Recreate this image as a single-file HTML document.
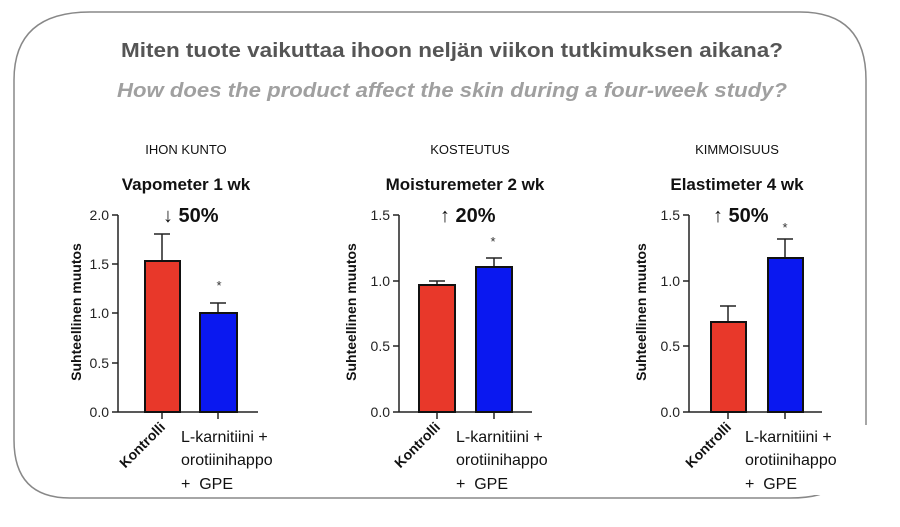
<!DOCTYPE html>
<html><head><meta charset="utf-8"><style>
html,body{margin:0;padding:0;background:#fff;}
svg{display:block;font-family:"Liberation Sans",sans-serif;}
</style></head><body>
<svg width="900" height="527" viewBox="0 0 900 527">
<path d="M14,440 L14,80 Q14,12 90,12 L800,12 Q866,12 866,80 L866,425" fill="none" stroke="#888" stroke-width="1.5"/>
<path d="M14,440 Q14,498 70,498 L790,498 Q825,498 835,485" fill="none" stroke="#888" stroke-width="1.5"/>
<text x="452" y="57" text-anchor="middle" font-size="20" font-weight="bold" fill="#555" textLength="662" lengthAdjust="spacingAndGlyphs">Miten tuote vaikuttaa ihoon neljän viikon tutkimuksen aikana?</text>
<text x="452" y="97" text-anchor="middle" font-size="20" font-weight="bold" font-style="italic" fill="#a0a0a0" textLength="670" lengthAdjust="spacingAndGlyphs">How does the product affect the skin during a four-week study?</text>

<g font-size="13" fill="#111" text-anchor="middle">
<text x="186" y="154">IHON KUNTO</text>
<text x="470" y="154">KOSTEUTUS</text>
<text x="737" y="154">KIMMOISUUS</text>
</g>
<g font-size="17" font-weight="bold" fill="#111" text-anchor="middle">
<text x="186" y="190">Vapometer 1 wk</text>
<text x="465" y="190">Moisturemeter 2 wk</text>
<text x="737" y="190">Elastimeter 4 wk</text>
</g>
<g font-size="20" font-weight="bold" fill="#111">
<text x="163" y="222"><tspan font-weight="normal">↓</tspan> 50%</text>
<text x="440" y="222"><tspan font-weight="normal">↑</tspan> 20%</text>
<text x="713" y="222"><tspan font-weight="normal">↑</tspan> 50%</text>
</g>
<g font-size="14" font-weight="bold" fill="#111" text-anchor="middle">
<text transform="translate(81,312) rotate(-90)">Suhteellinen muutos</text>
<text transform="translate(356,312) rotate(-90)">Suhteellinen muutos</text>
<text transform="translate(646,312) rotate(-90)">Suhteellinen muutos</text>
</g>

<!-- Panel 1 -->
<g stroke="#222" stroke-width="1.5" fill="none">
<line x1="118" y1="215" x2="118" y2="412"/><line x1="118" y1="412" x2="258" y2="412"/>
<line x1="112" y1="215" x2="118" y2="215"/><line x1="112" y1="264" x2="118" y2="264"/><line x1="112" y1="313" x2="118" y2="313"/><line x1="112" y1="363" x2="118" y2="363"/><line x1="112" y1="412" x2="118" y2="412"/>
<line x1="162" y1="412" x2="162" y2="419"/><line x1="218" y1="412" x2="218" y2="419"/>
<line x1="162" y1="261" x2="162" y2="234"/><line x1="154" y1="234" x2="170" y2="234"/>
<line x1="218" y1="313" x2="218" y2="303"/><line x1="210" y1="303" x2="226" y2="303"/>
</g>
<rect x="145" y="261" width="35" height="151" fill="#e8382a" stroke="#111" stroke-width="2"/>
<rect x="200" y="313" width="37" height="99" fill="#0a18f0" stroke="#111" stroke-width="2"/>
<g font-size="14" fill="#222" text-anchor="end">
<text x="109" y="220">2.0</text><text x="109" y="269">1.5</text><text x="109" y="318">1.0</text><text x="109" y="368">0.5</text><text x="109" y="417">0.0</text>
</g>
<text x="219" y="290" font-size="13" text-anchor="middle" fill="#333">*</text>

<!-- Panel 2 -->
<g stroke="#222" stroke-width="1.5" fill="none">
<line x1="399" y1="215" x2="399" y2="412"/><line x1="399" y1="412" x2="532" y2="412"/>
<line x1="393" y1="215" x2="399" y2="215"/><line x1="393" y1="281" x2="399" y2="281"/><line x1="393" y1="346" x2="399" y2="346"/><line x1="393" y1="412" x2="399" y2="412"/>
<line x1="437" y1="412" x2="437" y2="419"/><line x1="494" y1="412" x2="494" y2="419"/>
<line x1="437" y1="285" x2="437" y2="281"/><line x1="429" y1="281" x2="445" y2="281"/>
<line x1="494" y1="267" x2="494" y2="258"/><line x1="486" y1="258" x2="502" y2="258"/>
</g>
<rect x="419" y="285" width="36" height="127" fill="#e8382a" stroke="#111" stroke-width="2"/>
<rect x="476" y="267" width="36" height="145" fill="#0a18f0" stroke="#111" stroke-width="2"/>
<g font-size="14" fill="#222" text-anchor="end">
<text x="390" y="220">1.5</text><text x="390" y="286">1.0</text><text x="390" y="351">0.5</text><text x="390" y="417">0.0</text>
</g>
<text x="493" y="246" font-size="13" text-anchor="middle" fill="#333">*</text>

<!-- Panel 3 -->
<g stroke="#222" stroke-width="1.5" fill="none">
<line x1="689" y1="215" x2="689" y2="412"/><line x1="689" y1="412" x2="822" y2="412"/>
<line x1="683" y1="215" x2="689" y2="215"/><line x1="683" y1="281" x2="689" y2="281"/><line x1="683" y1="346" x2="689" y2="346"/><line x1="683" y1="412" x2="689" y2="412"/>
<line x1="728" y1="412" x2="728" y2="419"/><line x1="785" y1="412" x2="785" y2="419"/>
<line x1="728" y1="322" x2="728" y2="306"/><line x1="720" y1="306" x2="736" y2="306"/>
<line x1="785" y1="258" x2="785" y2="239"/><line x1="777" y1="239" x2="793" y2="239"/>
</g>
<rect x="711" y="322" width="35" height="90" fill="#e8382a" stroke="#111" stroke-width="2"/>
<rect x="768" y="258" width="35" height="154" fill="#0a18f0" stroke="#111" stroke-width="2"/>
<g font-size="14" fill="#222" text-anchor="end">
<text x="680" y="220">1.5</text><text x="680" y="286">1.0</text><text x="680" y="351">0.5</text><text x="680" y="417">0.0</text>
</g>
<text x="785" y="232" font-size="13" text-anchor="middle" fill="#333">*</text>

<!-- x labels -->
<g font-size="14" font-weight="bold" fill="#111" text-anchor="end">
<text transform="translate(166,428) rotate(-45)">Kontrolli</text>
<text transform="translate(441,428) rotate(-45)">Kontrolli</text>
<text transform="translate(732,428) rotate(-45)">Kontrolli</text>
</g>
<rect x="740" y="425" width="130" height="70" fill="#fff"/>
<g font-size="16" fill="#111">
<text x="181" y="442">L-karnitiini +</text><text x="181" y="465">orotiinihappo</text><text x="181" y="489">+&#160;&#160;GPE</text>
<text x="456" y="442">L-karnitiini +</text><text x="456" y="465">orotiinihappo</text><text x="456" y="489">+&#160;&#160;GPE</text>
<text x="745" y="442">L-karnitiini +</text><text x="745" y="465">orotiinihappo</text><text x="745" y="489">+&#160;&#160;GPE</text>
</g>
</svg>
</body></html>
